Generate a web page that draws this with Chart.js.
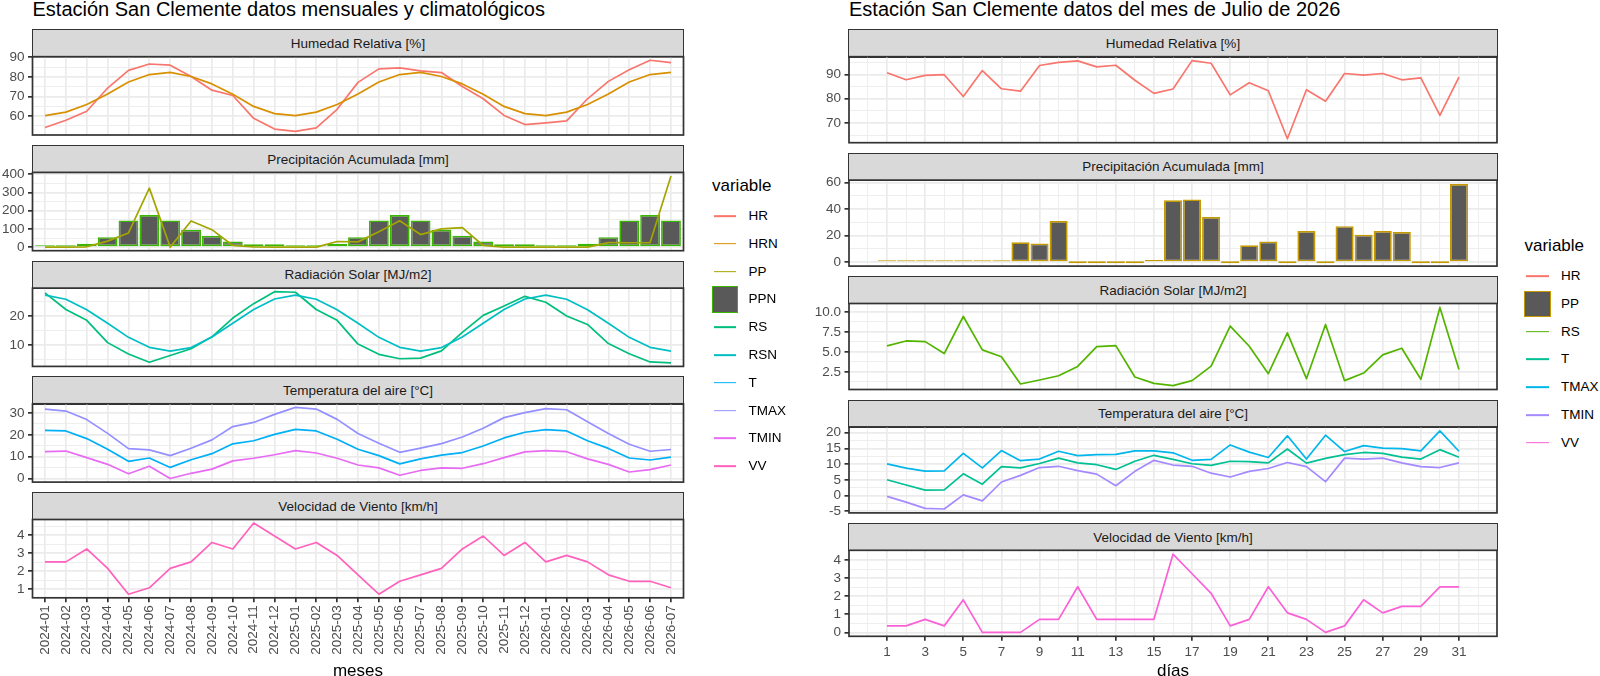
<!DOCTYPE html>
<html><head><meta charset="utf-8">
<script src="https://cdn.jsdelivr.net/npm/chart.js@4.4.1/dist/chart.umd.min.js"></script>
<style>
html,body{margin:0;padding:0;background:#fff;}
body{width:1600px;height:676px;position:relative;overflow:hidden;font-family:'Liberation Sans',Arial,Helvetica,sans-serif;}
.txt{position:absolute;white-space:nowrap;color:#000;}
.title{font-size:20px;line-height:20px;}
.strip{position:absolute;box-sizing:border-box;background:#D9D9D9;border:1.7px solid #333333;display:flex;align-items:center;justify-content:center;font-size:13.5px;color:#1A1A1A;white-space:nowrap;}
.axt{font-size:17px;line-height:17px;transform:translate(-50%,-50%);}
.lgt{font-size:17px;line-height:17px;transform:translateY(-50%);}
.lgl{font-size:13.5px;line-height:14px;transform:translateY(-50%);}
.kl{position:absolute;height:1.7px;transform:translateY(-50%);}
.kb{position:absolute;box-sizing:border-box;background:#595959;border:1.7px solid;}
canvas{position:absolute;}
</style></head><body>
<script>
// ---------- data: monthly panel ----------
const months = ['2024-01','2024-02','2024-03','2024-04','2024-05','2024-06','2024-07','2024-08','2024-09','2024-10','2024-11','2024-12',
 '2025-01','2025-02','2025-03','2025-04','2025-05','2025-06','2025-07','2025-08','2025-09','2025-10','2025-11','2025-12',
 '2026-01','2026-02','2026-03','2026-04','2026-05','2026-06','2026-07'];
const HR_L  = [54.1,57.8,62.4,74.3,83.3,86.6,86.0,80.2,73.2,70.5,58.8,53.3,52.1,53.9,63.4,77.2,84.1,84.6,83.1,82.2,75.1,68.8,60.3,55.6,56.5,57.5,68.8,77.7,83.6,88.5,87.3];
const HRN_L = [60.2,62.0,65.9,71.3,77.4,81.2,82.3,80.2,76.4,71.1,64.9,61.2,60.2,62.0,65.9,71.3,77.4,81.2,82.3,80.2,76.4,71.1,64.9,61.2,60.2,62.0,65.9,71.3,77.4,81.2,82.3];
const PP_L  = [0,0,2,33,78,324,0,144,96,9,2,0,0,0,31,29,85,145,69,100,107,9,0,0,0,0,0,25,24,25,391];
const PPN_L = [9,9,18,55,147,176,147,95,62,31,16,16,9,9,18,55,147,176,147,95,62,31,16,16,9,9,18,55,147,176,147];
const RS_L  = [27.9,22.2,18.5,10.9,7.0,4.2,6.5,8.8,12.9,19.3,24.2,28.3,28.1,22.2,18.5,10.4,6.9,5.4,5.6,8.1,14.4,20.2,23.4,26.7,24.7,20.0,17.1,10.6,7.1,4.3,4.0];
const RSN_L = [27.1,25.7,22.1,17.5,12.7,9.3,8.0,9.2,12.8,17.5,22.2,25.8,27.1,25.7,22.1,17.5,12.7,9.3,8.0,9.2,12.8,17.5,22.2,25.8,27.1,25.7,22.1,17.5,12.7,9.3,8.0];
const T_L    = [22.1,21.8,18.3,13.4,7.9,9.4,5.1,8.6,11.4,15.9,17.3,20.2,22.5,21.8,18.0,13.4,10.5,6.7,9.0,10.7,11.9,14.9,18.6,21.2,22.4,21.8,17.3,13.8,9.4,8.5,9.8];
const TMAX_L = [31.8,30.9,27.0,20.7,13.7,13.1,10.5,13.9,17.7,23.8,25.7,29.4,32.6,31.8,27.1,20.6,16.2,12.0,13.9,16.0,19.0,23.0,27.9,30.2,32.0,31.5,26.0,20.6,15.7,12.5,13.3];
const TMIN_L = [12.3,12.6,9.6,6.5,2.2,5.6,0.0,2.4,4.3,8.1,9.3,10.9,12.8,11.7,9.3,6.2,4.9,1.5,3.7,4.9,4.7,6.8,9.6,12.2,12.8,12.3,9.0,6.5,3.0,4.1,6.2];
const VV_L  = [2.52,2.52,3.24,2.16,0.72,1.08,2.16,2.52,3.6,3.24,4.68,3.96,3.24,3.6,2.88,1.8,0.72,1.44,1.8,2.16,3.24,3.96,2.88,3.6,2.52,2.88,2.52,1.8,1.44,1.44,1.08];
const hrTicksL = ['60','70','80','90'];
const ppTicksL = ['0','100','200','300','400'];
const rsTicksL = ['10','20'];
const tTicksL  = ['0','10','20','30'];
const vvTicksL = ['1','2','3','4'];

// ---------- data: daily panel ----------
const days = [1,2,3,4,5,6,7,8,9,10,11,12,13,14,15,16,17,18,19,20,21,22,23,24,25,26,27,28,29,30,31];
const dayTicks = ['1','3','5','7','9','11','13','15','17','19','21','23','25','27','29','31'];
const HR_R  = [90.7,87.8,89.6,89.9,80.9,91.6,84.1,83.1,93.7,95.0,95.6,93.1,93.8,87.6,82.2,84.0,95.7,94.6,81.6,86.6,83.3,63.5,83.7,79.0,90.4,89.7,90.4,87.8,88.6,73.1,88.9];
const PP_R  = [0.2,0.3,0.3,0.6,0.2,0.6,0.2,15.0,14.1,31.1,0,0,0,0,1.7,46.7,47.4,34.1,0,12.8,15.6,0,23.5,0,27.2,20.7,23.5,22.7,0,0,59.0];
const RS_R  = [5.75,6.37,6.29,4.79,9.44,5.25,4.38,0.97,1.47,2.01,3.17,5.66,5.79,1.85,1.05,0.77,1.39,3.22,8.24,5.71,2.26,7.39,1.64,8.44,1.39,2.34,4.63,5.46,1.56,10.58,2.80];
const T_R    = [5.0,3.35,1.7,1.8,6.9,3.6,9.2,8.8,10.2,11.9,10.4,9.8,8.3,10.9,12.8,11.5,10.1,9.6,10.9,10.8,10.4,14.8,10.3,11.8,13.0,13.7,13.4,12.2,11.6,14.6,12.2];
const TMAX_R = [10.05,8.7,7.75,7.85,13.4,8.8,14.3,11.1,11.6,14.1,12.7,13.0,13.1,14.2,14.2,13.6,11.2,11.5,16.1,13.8,12.1,19.0,11.6,19.2,14.0,15.9,15.1,14.9,14.2,20.6,14.1];
const TMIN_R = [-0.3,-2.1,-4.1,-4.3,0.2,-1.7,4.3,6.4,8.9,9.3,7.9,6.8,3.1,7.7,11.2,9.7,9.3,7.1,5.9,7.7,8.6,10.5,9.2,4.4,11.9,11.6,11.9,10.4,9.2,8.9,10.4];
const VV_R  = [0.36,0.36,0.72,0.36,1.8,0,0,0,0.72,0.72,2.52,0.72,0.72,0.72,0.72,4.32,3.24,2.16,0.36,0.72,2.52,1.08,0.72,0,0.36,1.8,1.08,1.44,1.44,2.52,2.52];
const hrTicksR = ['70','80','90'];
const ppTicksR = ['0','20','40','60'];
const rsTicksR = ['2.5','5.0','7.5','10.0'];
const tTicksR  = ['-5','0','5','10','15','20'];
const vvTicksR = ['0','1','2','3','4'];

const facetNames = ['Humedad Relativa [%]','Precipitación Acumulada [mm]','Radiación Solar [MJ/m2]','Temperatura del aire [°C]','Velocidad de Viento [km/h]'];

// ---------- styling ----------
const COL_L = {HR:'#F8766D',HRN:'#D89000',PP:'#A3A500',PPN:'#39B600',RS:'#00BF7D',RSN:'#00BFC4',T:'#00B0F6',TMAX:'#9590FF',TMIN:'#E76BF3',VV:'#FF62BC'};
const COL_R = {HR:'#F8766D',PP:'#C49A00',RS:'#53B400',T:'#00C094',TMAX:'#00B6EB',TMIN:'#A58AFF',VV:'#FB61D7'};
const LW = 1.7;
Chart.defaults.font.family = "'Liberation Sans', Arial, Helvetica, sans-serif";

const PL = {left:32.5, right:683.5, top0:29.3, pitch:115.7, strip:27.4, h:78.3};
const PR = {left:849, right:1497, top0:29.3, pitch:123.4, strip:27.4, h:86};

function el(cls, txt, css){const d=document.createElement('div');d.className=cls;if(txt!=null)d.textContent=txt;Object.assign(d.style,css);document.body.appendChild(d);return d;}

function yRange(arrs, incl0){
  let mn=Infinity,mx=-Infinity;
  arrs.forEach(a=>a.forEach(v=>{if(v<mn)mn=v;if(v>mx)mx=v;}));
  if(incl0){mn=Math.min(mn,0);mx=Math.max(mx,0);}
  const e=(mx-mn)*0.05;return [mn-e,mx+e];
}
function tickList(labels,min,max,minors){
  const vals=labels.map(Number);const out=[];
  vals.forEach((v,i)=>{if(v>=min-1e-9&&v<=max+1e-9)out.push({value:v,txt:labels[i],minor:false});});
  if(minors&&vals.length>1){const st=vals[1]-vals[0];
    [vals[0]-st/2].concat(vals.map(v=>v+st/2)).forEach(v=>{if(v>=min&&v<=max)out.push({value:v,txt:'',minor:true});});}
  return out.sort((a,b)=>a.value-b.value);
}
const isMinor=c=>!!(c.tick&&c.tick.minor);
const panelBorder={id:'pborder',afterDraw(c){const a=c.chartArea,x=c.ctx;x.save();x.strokeStyle='#333333';x.lineWidth=LW;x.strokeRect(a.left,a.top,a.right-a.left,a.bottom-a.top);x.restore();}};

function line(xs,ys,color){return {type:'line',data:ys.map((v,i)=>({x:xs[i],y:v})),borderColor:color,backgroundColor:color,borderWidth:LW,pointRadius:0,tension:0,borderJoinStyle:'round',borderCapStyle:'butt',fill:false};}
function bars(xs,ys,border){return {type:'bar',data:ys.map((v,i)=>({x:xs[i],y:v})),backgroundColor:'#595959',borderColor:border,borderWidth:LW,borderSkipped:false,barPercentage:0.95,categoryPercentage:1,minBarLength:2};}

function facet(P,k,datasets,yTicks,yR,X,bottom){
  const stripTop=P.top0+P.pitch*k, plotTop=stripTop+P.strip, plotBottom=plotTop+P.h;
  el('strip',facetNames[k],{left:(P.left-LW/2)+'px',top:stripTop+'px',width:(P.right-P.left+LW)+'px',height:(P.strip+LW/2)+'px'});
  const XH=bottom?X.XH:0;
  const cl=Math.floor(P.left)-56, ct=Math.floor(plotTop)-14;
  const cw=Math.ceil(P.right+14)-cl, ch=Math.ceil(plotBottom+XH+14)-ct;
  const cv=document.createElement('canvas');cv.width=cw;cv.height=ch;
  cv.style.left=cl+'px';cv.style.top=ct+'px';cv.style.width=cw+'px';cv.style.height=ch+'px';
  document.body.appendChild(cv);
  const yW=P.left-cl, padT=plotTop-ct, padR=cl+cw-P.right, padB=ct+ch-plotBottom-XH;
  const gridCommon={offset:false,color:c=>'#EBEBEB',lineWidth:c=>isMinor(c)?0.85:LW,tickLength:4.5,tickWidth:LW,tickColor:c=>isMinor(c)?'rgba(0,0,0,0)':'#333333'};
  new Chart(cv,{type:'line',data:{datasets},plugins:[panelBorder],options:{
    responsive:false,animation:false,events:[],
    layout:{padding:{left:0,top:padT,right:padR,bottom:padB}},
    plugins:{legend:{display:false},tooltip:{enabled:false}},
    scales:{
      x:{type:'linear',min:X.min,max:X.max,offset:false,position:'bottom',
        afterBuildTicks:s=>{s.ticks=X.ticks.map(t=>Object.assign({},t));},
        afterFit:s=>{s.height=XH;},
        grid:Object.assign({},gridCommon,{drawTicks:bottom}),
        border:{display:false},
        ticks:{display:bottom,autoSkip:false,maxRotation:X.rot,minRotation:X.rot,padding:3,color:'#4D4D4D',font:{size:13.5},
          callback:(v,i,t)=>t[i].txt}},
      y:{type:'linear',min:yR[0],max:yR[1],position:'left',
        afterBuildTicks:s=>{s.ticks=tickList(yTicks,yR[0],yR[1],true);},
        afterFit:s=>{s.width=yW;},
        grid:Object.assign({},gridCommon,{drawTicks:true}),
        border:{display:false},
        ticks:{autoSkip:false,padding:3.5,color:'#4D4D4D',font:{size:13.5},callback:(v,i,t)=>t[i].txt}}
    }}});
}

// ---------- left panel ----------
const idxL = months.map((m,i)=>i);
const XL = {min:-0.6,max:months.length-1+0.6,rot:90,XH:62,ticks:months.map((m,i)=>({value:i,txt:m,minor:false}))};
facet(PL,0,[line(idxL,HRN_L,COL_L.HRN),line(idxL,HR_L,COL_L.HR)],hrTicksL,yRange([HR_L,HRN_L]),XL,false);
facet(PL,1,[line(idxL,PP_L,COL_L.PP),bars(idxL,PPN_L,COL_L.PPN)],ppTicksL,yRange([PP_L,PPN_L],true),XL,false);
facet(PL,2,[line(idxL,RSN_L,COL_L.RSN),line(idxL,RS_L,COL_L.RS)],rsTicksL,yRange([RS_L,RSN_L]),XL,false);
facet(PL,3,[line(idxL,TMIN_L,COL_L.TMIN),line(idxL,TMAX_L,COL_L.TMAX),line(idxL,T_L,COL_L.T)],tTicksL,yRange([T_L,TMAX_L,TMIN_L]),XL,false);
facet(PL,4,[line(idxL,VV_L,COL_L.VV)],vvTicksL,yRange([VV_L]),XL,true);

// ---------- right panel ----------
const bx0=days[0]-0.45, bx1=days[days.length-1]+0.45, bxe=(bx1-bx0)*0.05;
const XR = {min:bx0-bxe,max:bx1+bxe,rot:0,XH:26};
XR.ticks = tickList(dayTicks,XR.min,XR.max,true);
facet(PR,0,[line(days,HR_R,COL_R.HR)],hrTicksR,yRange([HR_R]),XR,false);
facet(PR,1,[bars(days,PP_R,COL_R.PP)],ppTicksR,yRange([PP_R],true),XR,false);
facet(PR,2,[line(days,RS_R,COL_R.RS)],rsTicksR,yRange([RS_R]),XR,false);
facet(PR,3,[line(days,TMIN_R,COL_R.TMIN),line(days,TMAX_R,COL_R.TMAX),line(days,T_R,COL_R.T)],tTicksR,yRange([T_R,TMAX_R,TMIN_R]),XR,false);
facet(PR,4,[line(days,VV_R,COL_R.VV)],vvTicksR,yRange([VV_R]),XR,true);

// ---------- titles / axis titles ----------
el('txt title','Estación San Clemente datos mensuales y climatológicos',{left:PL.left+'px',top:'-1.2px'});
el('txt title','Estación San Clemente datos del mes de Julio de 2026',{left:PR.left+'px',top:'-1.2px'});
el('txt axt','meses',{left:((PL.left+PL.right)/2)+'px',top:'670px'});
el('txt axt','días',{left:((PR.left+PR.right)/2)+'px',top:'670px'});

// ---------- legends ----------
function legend(x,titleY,y0,step,items,cols){
  el('txt lgt','variable',{left:x+'px',top:titleY+'px'});
  items.forEach((it,i)=>{
    const cy=y0+step*i;
    if(it[1]==='box') el('kb',null,{left:(x-0.3)+'px',top:(cy-13.3)+'px',width:'26.6px',height:'26.6px',borderColor:cols[it[0]]});
    else el('kl',null,{left:(x+1.5)+'px',top:cy+'px',width:'22.5px',background:cols[it[0]]});
    el('txt lgl',it[0],{left:(x+36.5)+'px',top:cy+'px'});
  });
}
legend(712,185,216,27.8,[['HR','l'],['HRN','l'],['PP','l'],['PPN','box'],['RS','l'],['RSN','l'],['T','l'],['TMAX','l'],['TMIN','l'],['VV','l']],COL_L);
legend(1524.5,245,276,27.8,[['HR','l'],['PP','box'],['RS','l'],['T','l'],['TMAX','l'],['TMIN','l'],['VV','l']],COL_R);
</script>
</body></html>
